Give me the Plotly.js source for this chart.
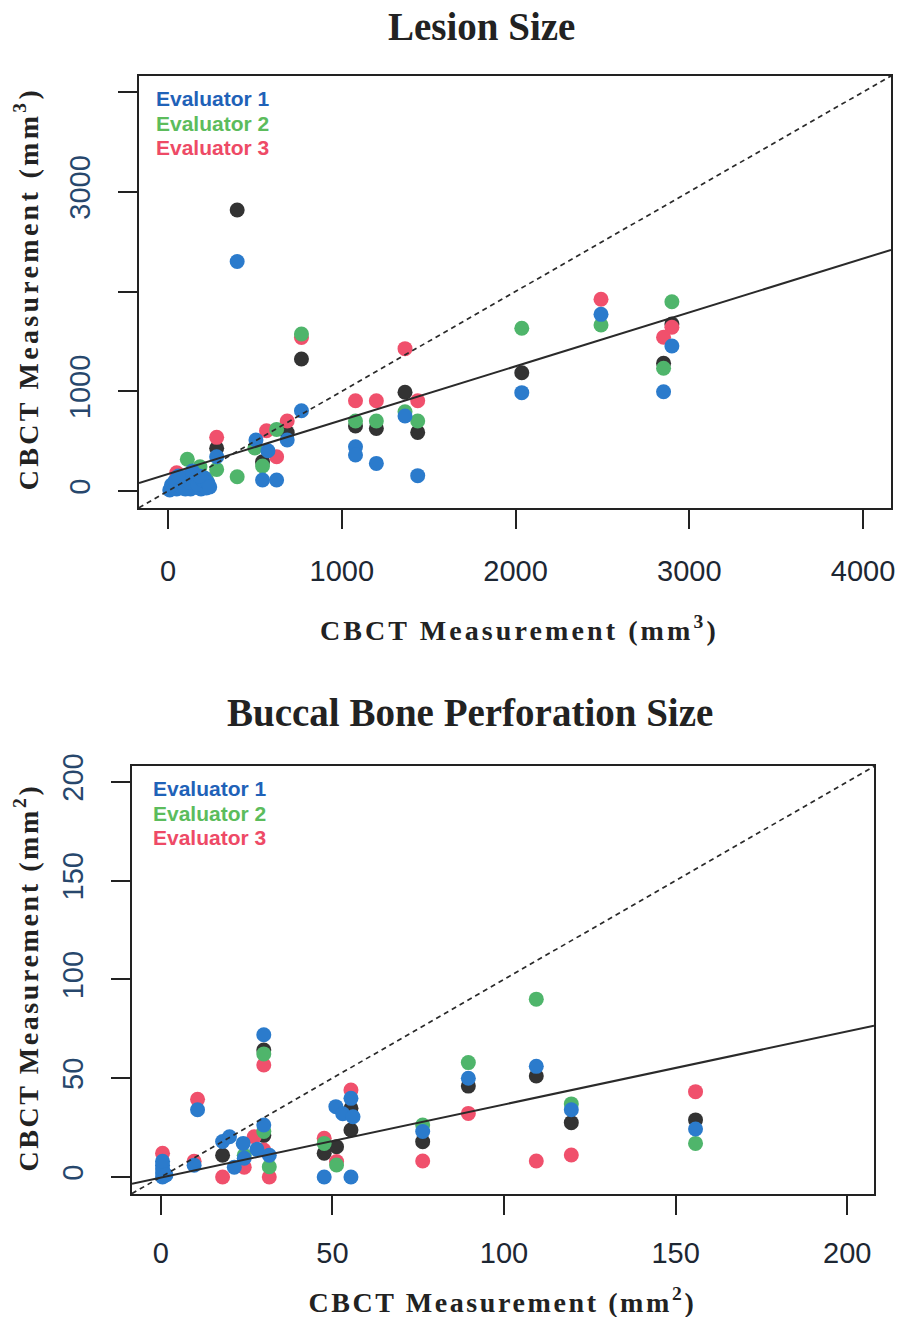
<!DOCTYPE html>
<html>
<head>
<meta charset="utf-8">
<script src="https://cdn.plot.ly/plotly-3.0.1.min.js"></script>
<style>
  html, body { margin: 0; padding: 0; background: #ffffff; }
  #chart { width: 907px; height: 1317px; }
  .annotation[data-index="1"] text { letter-spacing: 3.1px; }
  .annotation[data-index="2"] text { letter-spacing: 3.3px; }
  .annotation[data-index="4"] text, .annotation[data-index="5"] text { letter-spacing: 2.6px; }
</style>
</head>
<body>
<div id="chart"></div>
<script>
// ---------- Lesion Size (mm^3) ----------
const lesionMeanX = [398, 768, 1364, 1437, 1079, 1199, 686, 544, 280, 2036, 2900, 2852];
const lesionMeanY = [2817, 1323, 990, 588, 652, 628, 585, 294, 428, 1186, 1674, 1280];

const lesionEval1X = [398, 1364, 1437, 1079, 1079, 1199, 768, 686, 506, 575, 544, 625, 280, 2036, 2492, 2900, 2852,
                      10, 30, 50, 60, 80, 100, 110, 130, 140, 150, 160, 180, 190, 200, 210, 220, 120, 90,
                      20, 40, 70, 100, 120, 170, 200, 230, 60, 180, 240, 140];
const lesionEval1Y = [2300, 752, 154, 444, 361, 277, 805, 511, 511, 404, 110, 110, 344, 986, 1771, 1454, 995,
                      10, 40, 20, 90, 30, 60, 120, 20, 80, 150, 40, 100, 20, 60, 130, 30, 150, 130,
                      60, 100, 130, 20, 90, 70, 110, 80, 150, 150, 40, 200];

const lesionEval2X = [768, 1364, 1437, 1079, 1199, 625, 500, 544, 398, 280, 111, 184, 2036, 2492, 2900, 2852, 140, 220];
const lesionEval2Y = [1574, 795, 702, 702, 702, 618, 431, 251, 143, 217, 318, 244, 1631, 1664, 1898, 1230, 180, 120];

const lesionEval3X = [768, 1364, 1437, 1079, 1199, 686, 567, 625, 280, 50, 2492, 2900, 2852];
const lesionEval3Y = [1540, 1427, 905, 905, 905, 702, 605, 344, 538, 184, 1922, 1641, 1541];

const lesionFit = [170, 0.54];           // intercept, slope
const lesionTicks = [0, 1000, 2000, 3000, 4000];
const lesionXTickText = ['0', '1000', '2000', '3000', '4000'];
const lesionYTickText = ['0', '1000', '', '3000', ''];
const lesionRange = [-167, 4161];
const lesionYRange = [-170, 4160];

// ---------- Buccal Bone Perforation Size (mm^2) ----------
const bbpMeanX = [30, 18, 30, 47.6, 51.2, 55.4, 55.4, 76.3, 89.6, 109.4, 119.6, 155.8];
const bbpMeanY = [64.3, 11, 21, 12, 15.3, 34.8, 23.8, 17.9, 46, 51.1, 27.5, 28.9];

const bbpEval1X = [30, 10.7, 0.5, 0.5, 0.5, 0.5, 0.5, 1.5, 9.7, 18, 20, 24, 28, 30, 31.6, 21.4, 24.3,
                   47.6, 51, 53, 56, 55.4, 55.4, 76.3, 89.6, 109.4, 119.6, 155.8];
const bbpEval1Y = [72, 34, 0, 2, 4, 6, 8, 1, 6, 18, 20.4, 17, 14, 26.3, 11, 5, 9.5,
                   0, 35.6, 32, 30.5, 39.8, 0, 23, 50, 56, 34, 24.3];

const bbpEval2X = [30, 30, 31.6, 47.6, 51.2, 76.3, 89.6, 109.4, 119.6, 155.8, 24.3];
const bbpEval2Y = [62.3, 23, 5.2, 17, 6.1, 26.3, 57.9, 90, 37, 17, 11];

const bbpEval3X = [30, 10.7, 0.5, 9.7, 18, 27.2, 30, 31.6, 24.3, 47.6, 51.2, 55.4, 76.3, 89.6, 109.4, 119.6, 155.8];
const bbpEval3Y = [56.7, 39.3, 12, 8, 0, 20.4, 13.7, 0, 5, 19.6, 7.8, 44, 8.1, 32.2, 8.1, 11.1, 43.2];

const bbpFit = [-0.3, 0.37];             // intercept, slope
const bbpTicks = [0, 50, 100, 150, 200];
const bbpTickText = ['0', '50', '100', '150', '200'];
const bbpRange = [-8.4, 207.8];
const bbpYRange = [-8.6, 208];

const seriesNames = ['Evaluator 1', 'Evaluator 2', 'Evaluator 3'];

// ---------- styles ----------
const COL_MEAN = '#333333';
const COL_E1 = '#2b7bcc';
const COL_E2 = '#4fb56b';
const COL_E3 = '#f0506c';
const LEG_COLS = ['#1f62b8', '#5cbc5c', '#ee4a66'];
const MS = 15;

function pts(x, y, color, xa, ya, name) {
  return { type: 'scatter', mode: 'markers', x: x, y: y, xaxis: xa, yaxis: ya, name: name,
           marker: { color: color, size: MS, line: { width: 0 } }, showlegend: false, hoverinfo: 'x+y' };
}
function lineTrace(rng, coef, xa, ya, dash, w) {
  const xs = [rng[0], rng[1]];
  return { type: 'scatter', mode: 'lines', x: xs, y: xs.map(v => coef[0] + coef[1] * v),
           xaxis: xa, yaxis: ya, showlegend: false, hoverinfo: 'skip',
           line: { color: '#2a2a2a', width: w, dash: dash } };
}

const data = [
  pts(lesionMeanX, lesionMeanY, COL_MEAN, 'x', 'y', 'Mean'),
  pts(lesionEval3X, lesionEval3Y, COL_E3, 'x', 'y', seriesNames[2]),
  pts(lesionEval2X, lesionEval2Y, COL_E2, 'x', 'y', seriesNames[1]),
  pts(lesionEval1X, lesionEval1Y, COL_E1, 'x', 'y', seriesNames[0]),
  lineTrace(lesionRange, [0, 1], 'x', 'y', '5px,4px', 1.7),
  lineTrace(lesionRange, lesionFit, 'x', 'y', 'solid', 2),

  pts(bbpMeanX, bbpMeanY, COL_MEAN, 'x2', 'y2', 'Mean'),
  pts(bbpEval3X, bbpEval3Y, COL_E3, 'x2', 'y2', seriesNames[2]),
  pts(bbpEval2X, bbpEval2Y, COL_E2, 'x2', 'y2', seriesNames[1]),
  pts(bbpEval1X, bbpEval1Y, COL_E1, 'x2', 'y2', seriesNames[0]),
  lineTrace(bbpRange, [0, 1], 'x2', 'y2', '5px,4px', 1.7),
  lineTrace(bbpRange, bbpFit, 'x2', 'y2', 'solid', 2)
];

const tickFontX = { family: 'Liberation Sans, Arial, sans-serif', size: 29, color: '#1d2733' };
const tickFontY = { family: 'Liberation Sans, Arial, sans-serif', size: 29, color: '#27476c' };

function xAxis(domain, rng, ticks, txt, anchor, standoff) {
  return { domain: domain, range: rng, anchor: anchor, tickmode: 'array', tickvals: ticks, ticktext: txt,
           ticks: 'outside', ticklen: 19, tickwidth: 2, tickcolor: '#222',
           showline: true, mirror: true, linewidth: 2, linecolor: '#222',
           showgrid: false, zeroline: false, tickfont: tickFontX, ticklabelstandoff: standoff };
}
function yAxis(domain, rng, ticks, txt, anchor, standoff) {
  return { domain: domain, range: rng, anchor: anchor, tickmode: 'array', tickvals: ticks, ticktext: txt,
           ticks: 'outside', ticklen: 19, tickwidth: 2, tickcolor: '#222', tickangle: -90,
           showline: true, mirror: true, linewidth: 2, linecolor: '#222',
           showgrid: false, zeroline: false, tickfont: tickFontY, ticklabelstandoff: standoff };
}

const W = 907, H = 1317;
const px = v => v / W;
const py = v => 1 - v / H;

const serif = 'Liberation Serif, Times New Roman, serif';
const titleFont = { family: serif, size: 39, color: '#222' };
const axFont = { family: serif, size: 28, color: '#222' };
const legFont = c => ({ family: 'Liberation Sans, Arial, sans-serif', size: 21, color: c });

function ann(text, x, y, font, opts) {
  return Object.assign({ text: text, xref: 'paper', yref: 'paper', x: px(x), y: py(y),
                         xanchor: 'center', yanchor: 'middle', showarrow: false, font: font }, opts || {});
}

const annotations = [
  ann('<b>Lesion Size</b>', 481, 27, titleFont),
  ann('<b>CBCT Measurement (mm<sup>3</sup>)</b>', 519, 628, axFont),
  ann('<b>CBCT Measurement (mm<sup>3</sup>)</b>', 26, 289, axFont, { textangle: -90 }),
  ann('<b>Buccal Bone Perforation Size</b>', 470, 712, titleFont),
  ann('<b>CBCT Measurement (mm<sup>2</sup>)</b>', 502, 1300, axFont),
  ann('<b>CBCT Measurement (mm<sup>2</sup>)</b>', 26, 978, axFont, { textangle: -90 }),
  ann('<b>' + seriesNames[0] + '</b>', 154, 98, legFont(LEG_COLS[0]), { xanchor: 'left' }),
  ann('<b>' + seriesNames[1] + '</b>', 154, 123, legFont(LEG_COLS[1]), { xanchor: 'left' }),
  ann('<b>' + seriesNames[2] + '</b>', 154, 147, legFont(LEG_COLS[2]), { xanchor: 'left' }),
  ann('<b>' + seriesNames[0] + '</b>', 151, 789, legFont(LEG_COLS[0]), { xanchor: 'left' }),
  ann('<b>' + seriesNames[1] + '</b>', 151, 813, legFont(LEG_COLS[1]), { xanchor: 'left' }),
  ann('<b>' + seriesNames[2] + '</b>', 151, 837, legFont(LEG_COLS[2]), { xanchor: 'left' })
];

const layout = {
  width: W, height: H,
  margin: { l: 0, r: 0, t: 0, b: 0 },
  paper_bgcolor: '#ffffff', plot_bgcolor: '#ffffff',
  showlegend: false,
  xaxis: xAxis([px(139), px(891)], lesionRange, lesionTicks, lesionXTickText, 'y', 17),
  yaxis: yAxis([py(508), py(76)], lesionYRange, lesionTicks, lesionYTickText, 'x', 16),
  xaxis2: xAxis([px(132), px(874)], bbpRange, bbpTicks, bbpTickText, 'y2', 13),
  yaxis2: yAxis([py(1194), py(766)], bbpYRange, bbpTicks, bbpTickText, 'x2', 16),
  annotations: annotations
};

Plotly.newPlot('chart', data, layout, { displayModeBar: false, staticPlot: true });
</script>
</body>
</html>
